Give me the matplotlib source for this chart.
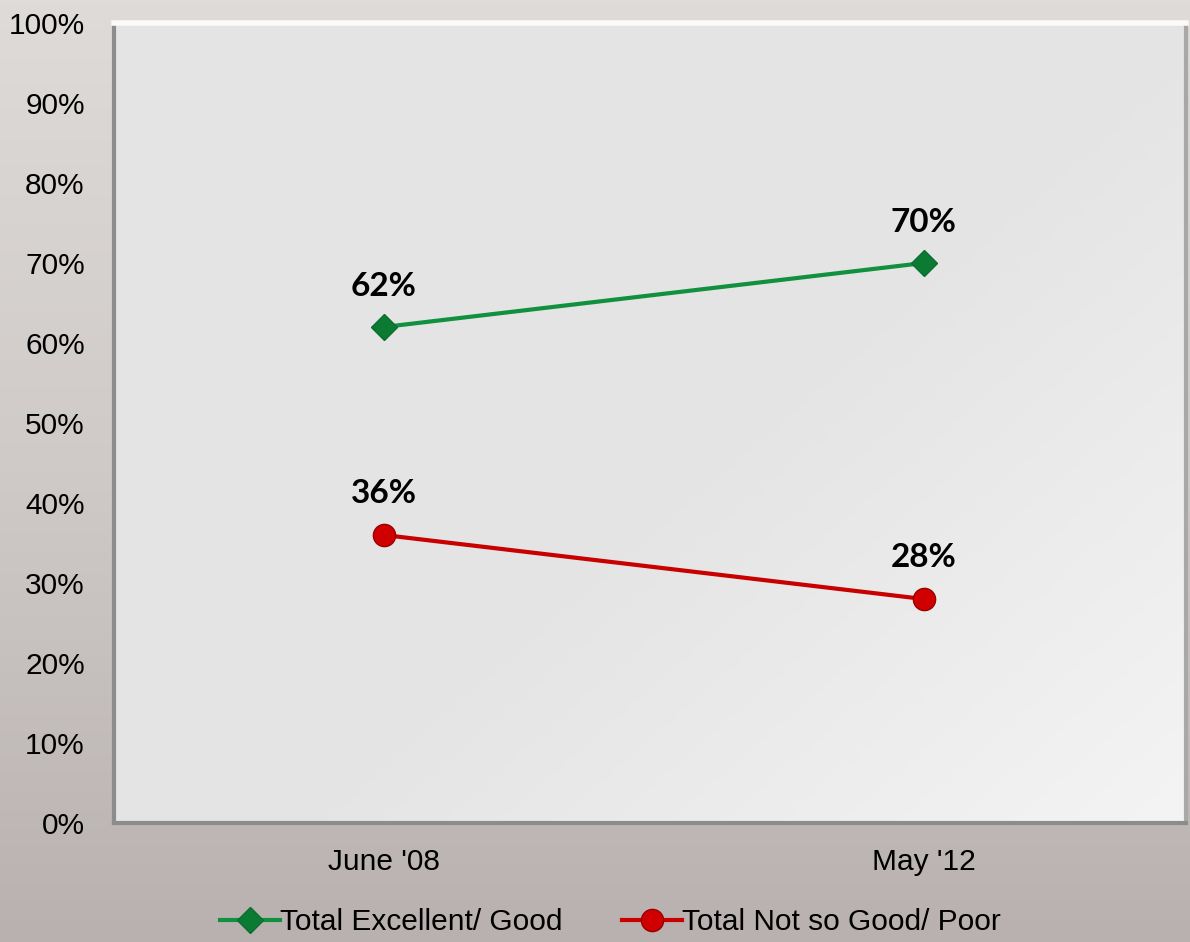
import numpy as np
import matplotlib
matplotlib.use("Agg")
import matplotlib.pyplot as plt
from matplotlib.colors import LinearSegmentedColormap

categories = ["June '08", "May '12"]
excellent_good = [62, 70]
not_so_good_poor = [36, 28]
series_names = ["Total Excellent/ Good", "Total Not so Good/ Poor"]
y_ticks = [0, 10, 20, 30, 40, 50, 60, 70, 80, 90, 100]

plt.rcParams['font.family'] = ['Liberation Sans', 'DejaVu Sans']

fig = plt.figure(figsize=(11.9, 9.42), dpi=100)

# figure background gradient (light grey on top, warm grey at bottom)
bg = fig.add_axes([0, 0, 1, 1], zorder=-10)
bg_cmap = LinearSegmentedColormap.from_list("bg", ["#b8b1af", "#cfcac8", "#dedbd9"])
bg.imshow(np.linspace(0, 1, 256).reshape(-1, 1), aspect='auto', cmap=bg_cmap,
          origin='lower', extent=[0, 1, 0, 1])
bg.axis('off')

ax = fig.add_axes([114 / 1190, 0.1263, 1072 / 1190, 0.8493])
ax.set_facecolor('none')

# plot area gradient, lighter towards the lower right
xx, yy = np.meshgrid(np.linspace(0, 1, 200), np.linspace(0, 1, 200))
shade = np.clip((xx * 0.7 + yy * 0.6) - 0.7, 0, 1) / 0.6
area_cmap = LinearSegmentedColormap.from_list("area", ["#e4e4e4", "#f4f4f4"])
ax.imshow(shade, cmap=area_cmap, aspect='auto', extent=[0, 1, 0, 1],
          transform=ax.transAxes, zorder=0, origin='upper')

x = np.arange(len(categories))
green = '#11903f'
red = '#c80000'

ax.plot(x, excellent_good, color=green, lw=3, marker='D', ms=13,
        mfc='#0b7a33', mec='#0a6e2e', mew=1, label=series_names[0], zorder=3)
ax.plot(x, not_so_good_poor, color=red, lw=3, marker='o', ms=16,
        mfc='#d00000', mec='#9a0000', mew=1, label=series_names[1], zorder=3)

for xi, v in zip(x, excellent_good):
    ax.annotate(f"{v}%", (xi, v), xytext=(0, 29), textcoords='offset points',
                ha='center', va='center', fontsize=24, fontweight='bold',
                family=['Lato', 'DejaVu Sans'], color='black')
for xi, v in zip(x, not_so_good_poor):
    ax.annotate(f"{v}%", (xi, v), xytext=(0, 30), textcoords='offset points',
                ha='center', va='center', fontsize=24, fontweight='bold',
                family=['Lato', 'DejaVu Sans'], color='black')

ax.set_xlim(-0.5, 1.486)
ax.set_ylim(0, 100)
ax.set_xticks(x)
ax.set_xticklabels(categories, fontsize=21.5)
ax.set_yticks(y_ticks)
ax.set_yticklabels([f"{t}%" for t in y_ticks], fontsize=21.5)
ax.tick_params(axis='both', length=0)
ax.tick_params(axis='y', pad=21)
ax.tick_params(axis='x', pad=18)

# bevelled frame
for side in ['left', 'bottom', 'right']:
    ax.spines[side].set_color('#8c8c8c')
    ax.spines[side].set_linewidth(3)
ax.spines['right'].set_color('#a8a8a8')
ax.spines['top'].set_color('#fafafa')
ax.spines['top'].set_linewidth(4)

fig.legend(loc='center', bbox_to_anchor=(0.513, 0.021), ncol=2, frameon=False,
           fontsize=21.5, handlelength=2.0, handletextpad=0.0, columnspacing=2.0)

fig.savefig("out.png", dpi=100)
